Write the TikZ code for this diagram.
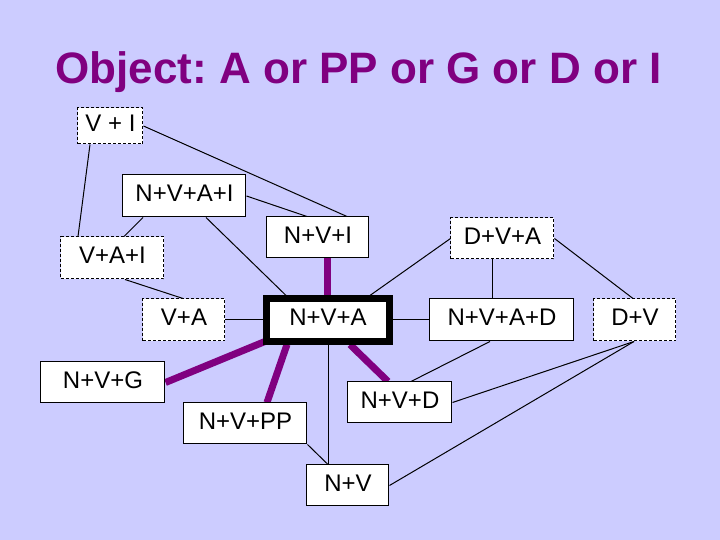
\documentclass[tikz,border=0pt]{standalone}
\usepackage{fontspec}
\setmainfont{Liberation Sans}
\definecolor{bg}{RGB}{204,204,255}
\definecolor{purp}{RGB}{128,0,128}
\pgfdeclarelayer{bgfill}
\pgfdeclarelayer{background}
\pgfsetlayers{bgfill,background,main}
\frenchspacing
\begin{document}
\begin{tikzpicture}[x=0.5pt,y=-0.5pt,
  box/.style={draw=black, line width=0.5pt, fill=white, inner sep=0pt,
    font=\fontsize{12}{14}\selectfont, text height=8.6pt, text depth=3pt},
  dbox/.style={box, dash pattern=on 1.5pt off 1pt},
  sz/.style 2 args={minimum width=#1*0.5pt, minimum height=#2*0.5pt},
  conn/.style={draw=black, line width=0.5pt},
  heavy/.style={draw=purp, line width=3.5pt},
  titlestyle/.style={font=\fontsize{22}{26}\selectfont\bfseries, text=purp, anchor=base, inner sep=0pt}
]
\begin{pgfonlayer}{bgfill}
\fill[bg] (0,0) rectangle (720,540);
\end{pgfonlayer}
\useasboundingbox (0,0) rectangle (720,540);

\node[titlestyle] (title) at (358.5,84) {Object: A or PP or G or D or I};

\node[dbox, sz={65}{36}] (VI) at (110.5,126) {V + I};
\node[box, sz={123}{42}] (NVAI) at (184.5,196) {N+V+A+I};
\node[box, sz={102}{41}] (NVI) at (318,237.5) {N+V+I};
\node[dbox, sz={103}{42}] (VAI) at (112.5,258) {V+A+I};
\node[dbox, sz={82}{42}] (VA) at (184,320) {V+A};
\node[box, line width=3.25pt, sz={123}{42.6}] (NVA) at (328,320) {N+V+A};
\node[dbox, sz={103}{41}] (DVA) at (502.5,238.5) {D+V+A};
\node[box, sz={144}{42}] (NVAD) at (502,320) {N+V+A+D};
\node[dbox, sz={82}{42}] (DV) at (635,320) {D+V};
\node[box, sz={124}{41}] (NVG) at (103,382.5) {N+V+G};
\node[box, sz={123}{41}] (NVPP) at (245.5,423.5) {N+V+PP};
\node[box, sz={104}{41}] (NVD) at (400,402.5) {N+V+D};
\node[box, sz={82}{41}] (NV) at (348,485.5) {N+V};

\begin{pgfonlayer}{background}
\draw[conn] ([xshift=-10.25pt]VI.south) -- ([xshift=-17.25pt]VAI.north);
\draw[conn] (VI.east) -- ([xshift=14.5pt]NVI.north);
\draw[conn] (NVAI.east) -- ([xshift=-5.5pt]NVI.north);
\draw[conn] ([xshift=-20.75pt]NVAI.south) -- ([xshift=5.75pt]VAI.north);
\draw[conn] ([xshift=10.75pt]NVAI.south) -- ([xshift=-21pt]NVA.north);
\draw[conn] ([xshift=6.25pt]VAI.south) -- ([xshift=-0.5pt]VA.north);
\draw[conn] (VA.east) -- (NVA.west);
\draw[heavy] ([xshift=5pt]NVI.south) -- (NVA.north);
\draw[conn] ([xshift=21pt]NVA.north) -- (DVA.west);
\draw[conn] (NVA.east) -- (NVAD.west);
\draw[conn] ([xshift=-4.75pt]DVA.south) -- ([xshift=-4.5pt]NVAD.north);
\draw[conn] (DVA.east) -- ([xshift=-1pt]DV.north);
\draw[conn] ([xshift=-0.5pt]DV.south) -- (NVD.east);
\draw[conn] ([xshift=-0.5pt]DV.south) -- (NV.east);
\draw[conn] ([xshift=-6pt]NVAD.south) -- ([xshift=5.5pt]NVD.north);
\draw[conn] ([xshift=0.5pt]NVA.south) -- ([xshift=-9.5pt]NV.north);
\draw[conn] (NVPP.south east) -- ([xshift=-10pt]NV.north);
\draw[heavy] ([xshift=2pt,yshift=2pt]NVA.south west) -- (NVG.east);
\draw[heavy] ([xshift=-20.5pt]NVA.south) -- ([xshift=10.75pt]NVPP.north);
\draw[heavy] ([xshift=11pt]NVA.south) -- ([xshift=-6pt]NVD.north);
\end{pgfonlayer}
\end{tikzpicture}
\end{document}
